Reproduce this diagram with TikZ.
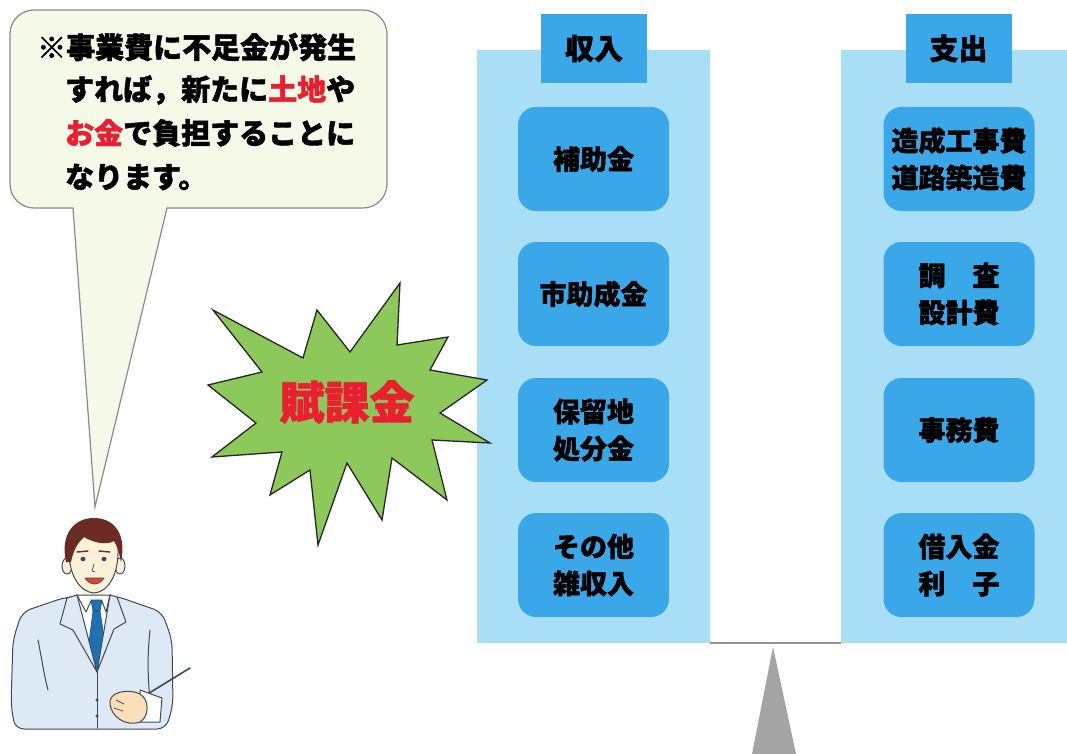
\documentclass[tikz,border=0pt]{standalone}
\usepackage{fontspec}
\newfontfamily\jp{Noto Sans CJK JP}[BoldFeatures={FakeBold=1.5}]
\definecolor{colLight}{HTML}{A9DFF6}
\definecolor{boxBlue}{HTML}{3AA8E8}
\definecolor{bubbleFill}{HTML}{F5FAE8}
\definecolor{bubbleLine}{HTML}{8A8A8A}
\definecolor{burstGreen}{HTML}{8CC95A}
\definecolor{alertRed}{HTML}{EA2030}
\definecolor{suitBlue}{HTML}{DDE9F4}
\definecolor{manLine}{HTML}{3E4A58}
\definecolor{skin}{HTML}{FBF0D8}
\definecolor{hairBrown}{HTML}{6A2C22}
\definecolor{tieBlue}{HTML}{1F6FB3}
\definecolor{standGray}{HTML}{A4A4A4}
\begin{document}
\begin{tikzpicture}[x=1pt,y=-1pt,
  column/.style={fill=colLight, draw=none, inner sep=0pt,
    minimum width=233pt, minimum height=593pt},
  tab/.style={fill=boxBlue, draw=none, inner sep=0pt,
    minimum width=106pt, minimum height=69pt,
    font=\jp\bfseries\fontsize{29pt}{34pt}\selectfont},
  itembox/.style={fill=boxBlue, draw=none, rounded corners=18pt, inner sep=0pt,
    minimum width=151pt, minimum height=104pt, align=center,
    font=\jp\bfseries\fontsize{27pt}{37pt}\selectfont},
  msgline/.style={anchor=west, inner sep=0pt,
    font=\jp\bfseries\fontsize{29pt}{43pt}\selectfont}
]
\useasboundingbox (0,0) rectangle (1067,754);
\fill[white] (0,0) rectangle (1067,754);

% ---- speech bubble ----
\node[draw=bubbleLine, fill=bubbleFill, line width=1.2pt, rounded corners=24pt,
      minimum width=377pt, minimum height=198pt, inner sep=0pt] (bubble) at (198.5,109) {};
\coordinate (tailtip) at (95,507);
\fill[bubbleFill] (73.6,206.9) -- (tailtip) -- (166.4,206.9) -- cycle;
\draw[bubbleLine, line width=1.2pt] (73,208) -- (tailtip) -- (167,208);
\node[msgline] (m1) at (37,47) {※事業費に不足金が発生};
\node[msgline] (m2) at (65,90) {すれば，新たに{\color{alertRed}土地}や};
\node[msgline] (m3) at (65,133) {{\color{alertRed}お金}で負担することに};
\node[msgline] (m4) at (65,177) {なります。};

% ---- balance columns ----
\node[column] (inc) at (593.5,346.5) {};
\node[column, minimum width=236pt] (exp) at (959,346.5) {};
\node[tab] (incHead) at (594,48.5) {収入};
\node[tab] (expHead) at (958.5,48.5) {支出};

\node[itembox] (i1) at (593.5,159) {補助金};
\node[itembox] (i2) at (593.5,294) {市助成金};
\node[itembox] (i3) at (593.5,430) {保留地\\処分金};
\node[itembox] (i4) at (593.5,565) {その他\\雑収入};

\node[itembox] (e1) at (959,159) {造成工事費\\道路築造費};
\node[itembox] (e2) at (959,294) {調　査\\設計費};
\node[itembox] (e3) at (959,430) {事務費};
\node[itembox] (e4) at (959,565) {借入金\\利　子};

% beam and stand
\draw[standGray!90!black, line width=2pt] (inc.south east) -- (exp.south west);
\coordinate (pivot) at (773,647);
\fill[standGray] (pivot) -- (796,754) -- (752,754) -- cycle;

% ---- starburst ----
\filldraw[fill=burstGreen, draw=black!85, line width=1.3pt, line join=miter]
  (212,457) -- (282,452) -- (270,495) -- (310,470) -- (318,545) -- (347,463)
  -- (382,520) -- (392,458) -- (447,500) -- (432,440) -- (490,443) -- (440,413)
  -- (487,380) -- (430,370) -- (448,337) -- (397,345) -- (400,283) -- (350,352)
  -- (317,310) -- (303,358) -- (213,310) -- (262,372) -- (208,385) -- (256,423)
  -- cycle;
\node[inner sep=0pt, text=alertRed, font=\jp\bfseries\fontsize{45pt}{50pt}\selectfont]
  (levy) at (347,402) {賦課金};

% ---- presenter figure ----
\begin{scope}[line width=1pt, line join=round, line cap=round]
  % jacket
  \filldraw[fill=suitBlue, draw=manLine, rounded corners=9pt]
    (66,597) -- (22,612) -- (13,640) -- (11,705) -- (15,729) -- (166,729)
    -- (173,705) -- (172,640) -- (162,612) -- (116,596) -- cycle;
  % neck
  \fill[skin] (82,584) rectangle (105,600);
  % shirt
  \filldraw[fill=white, draw=manLine] (76,595) -- (111,595) -- (97,672) -- cycle;
  % tie
  \filldraw[fill=tieBlue, draw=tieBlue!70!black, line width=0.6pt]
    (91,600) -- (102,600) -- (100,611) -- (93,611) -- cycle;
  \filldraw[fill=tieBlue, draw=tieBlue!70!black, line width=0.6pt]
    (93,611) -- (100,611) -- (106,650) -- (97,668) -- (88,650) -- cycle;
  % lapels
  \filldraw[fill=suitBlue, draw=manLine]
    (67,598) -- (77,595) -- (97,672) -- (73,630) -- (60,624) -- cycle;
  \filldraw[fill=suitBlue, draw=manLine]
    (117,597) -- (110,595) -- (97,672) -- (114,629) -- (126,622) -- cycle;
  % collar tips
  \draw[manLine] (77,595) -- (86,612) -- (91,601);
  \draw[manLine] (110,595) -- (106,612) -- (102,601);
  % jacket details
  \draw[manLine] (38,640) .. controls (42,660) and (44,675) .. (48,690);
  \draw[manLine] (150,630) .. controls (148,650) and (147,670) .. (150,700);
  \draw[manLine] (97,672) -- (97,728);
  \fill[manLine] (97,700) circle (1.6);
  \fill[manLine] (97,716) circle (1.6);
  % ears
  \filldraw[fill=skin, draw=manLine] (67,566) ellipse (5 and 8);
  \filldraw[fill=skin, draw=manLine] (120,566) ellipse (5 and 8);
  % head
  \filldraw[fill=skin, draw=manLine]
    (69,548) .. controls (68,575) and (80,592) .. (94,593)
    .. controls (108,592) and (119,575) .. (118,548)
    .. controls (118,528) and (106,522) .. (94,522)
    .. controls (81,522) and (69,528) .. (69,548) -- cycle;
  % hair
  \fill[hairBrown]
    (66,562) .. controls (60,534) and (74,518) .. (94,518)
    .. controls (114,518) and (127,534) .. (121,562)
    .. controls (119,552) and (117,546) .. (114,541)
    .. controls (106,546) and (92,542) .. (84,537)
    .. controls (78,543) and (74,548) .. (71,562) -- cycle;
  % eyes, brows, nose, mouth
  \fill[manLine] (83,559) ellipse (2.6 and 2.2);
  \fill[manLine] (104,559) ellipse (2.6 and 2.2);
  \draw[hairBrown, line width=1.4pt] (77,552) -- (88,551);
  \draw[hairBrown, line width=1.4pt] (99,551) -- (110,552);
  \draw[manLine, line width=0.7pt] (94,564) -- (92,571) -- (95,572);
  \filldraw[fill=red!45!brown, draw=manLine, line width=0.7pt]
    (85,578) .. controls (90,586) and (99,586) .. (104,578) -- cycle;
  % pointer
  \draw[manLine, line width=1.6pt] (128,706) -- (190,668);
  % cuff and hand
  \filldraw[fill=white, draw=manLine] (140,690) -- (162,698) -- (160,722) -- (140,722) -- cycle;
  \filldraw[fill=skin!85!orange, draw=manLine]
    (110,704) .. controls (108,692) and (128,688) .. (140,694)
    .. controls (150,700) and (149,717) .. (140,722)
    .. controls (125,727) and (111,716) .. (110,704) -- cycle;
  \draw[manLine, line width=0.7pt] (116,700) -- (124,704);
  \draw[manLine, line width=0.7pt] (114,708) -- (123,711);
\end{scope}
\end{tikzpicture}
\end{document}
